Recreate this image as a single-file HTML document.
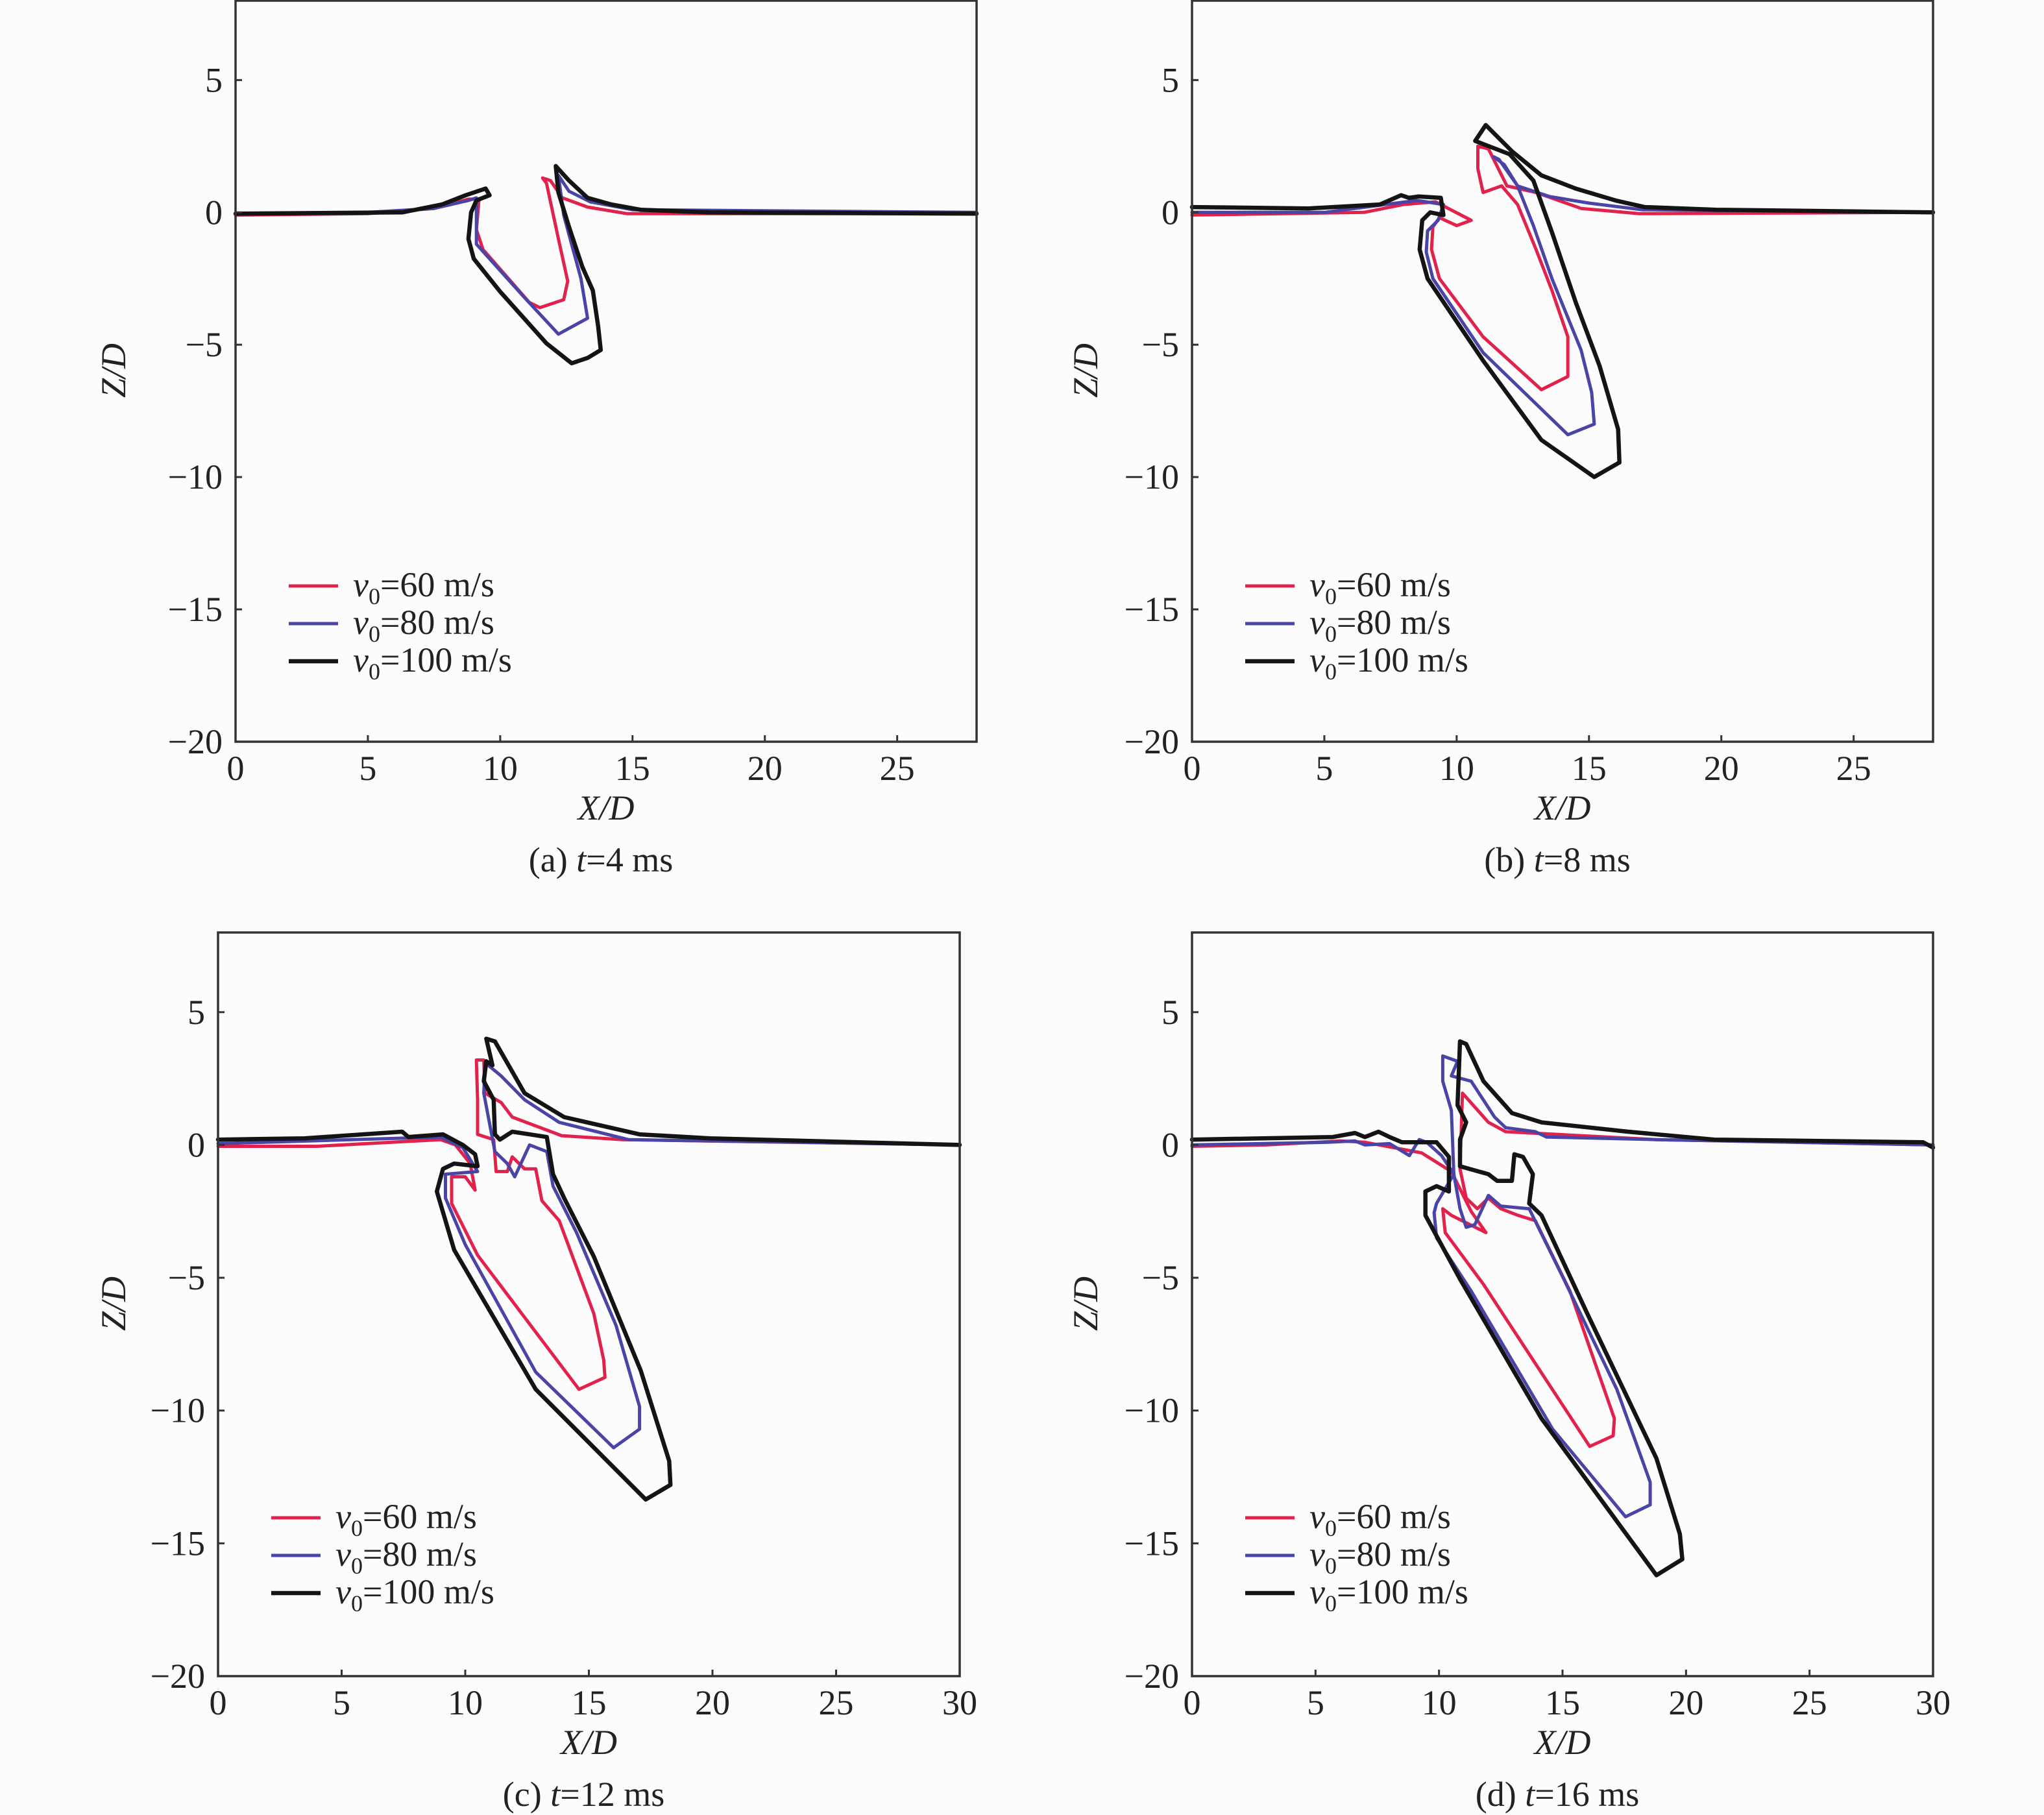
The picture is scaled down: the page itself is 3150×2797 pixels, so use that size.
<!DOCTYPE html>
<html><head><meta charset="utf-8"><style>
html,body{margin:0;padding:0;background:#fcfcfc;}
svg{display:block;font-family:"Liberation Serif",serif;}
</style></head><body>
<svg id="fig" width="3150" height="2797" viewBox="0 0 3150 2797" xmlns="http://www.w3.org/2000/svg"></svg>
<script>
// ---- data (X/D, Z/D) ----
const a60X=[0,5,7.5,8.8,9.2,9.1,9.35,11.1,11.5,12.4,12.55,12.2,11.75,11.6,11.9,12.35,13.3,14.8,28];
const a60Z=[-0.1,-0.05,0.15,0.5,0.5,-0.65,-1.4,-3.4,-3.6,-3.3,-2.6,-1.0,1.1,1.3,1.2,0.55,0.2,-0.05,-0.05];
const a80X=[0,5,7.5,8.8,9.1,9.1,9.1,10.9,12.2,13.3,13.05,12.4,12.2,12.6,13.4,15,28];
const a80Z=[-0.05,0,0.15,0.45,0.55,-0.2,-1.2,-3.2,-4.6,-4.0,-2.5,-0.1,1.4,0.8,0.4,0.1,0];
const a100X=[0,6.3,7.8,8.7,9.45,9.6,9.1,8.9,8.8,9.0,10.0,11.75,12.7,13.3,13.8,13.7,13.5,13.1,12.6,12.2,12.1,12.6,13.3,14.2,15.3,17.9,28];
const a100Z=[-0.05,0,0.3,0.65,0.9,0.65,0.45,0,-1.0,-1.75,-3.0,-4.95,-5.7,-5.5,-5.2,-4.3,-2.95,-2.05,-0.55,0.75,1.75,1.2,0.55,0.3,0.1,0,-0.05];

const b60X=[0,6.5,8,9.2,10.55,10.0,9.35,9.1,9.05,9.35,11.0,13.2,14.2,14.2,13.6,13.0,12.3,11.7,11.0,10.8,10.8,11.2,11.9,13.0,14.7,16.9,28];
const b60Z=[-0.1,0,0.3,0.4,-0.3,-0.5,-0.2,-0.55,-1.4,-2.5,-4.7,-6.7,-6.2,-4.7,-2.95,-1.4,0.3,1.0,0.75,1.65,2.5,2.4,1.0,0.75,0.15,-0.05,0];
const b80X=[0,5,8.5,9.5,9.3,8.9,8.85,9.1,11.0,14.2,15.2,15.1,14.7,13.6,12.9,12.3,11.6,11.4,11.8,12.3,13.5,15,17,28];
const b80Z=[0,0,0.45,0.3,-0.3,-0.7,-1.5,-2.5,-5.3,-8.4,-8.0,-6.8,-5.2,-2.5,-0.5,1.0,2.0,2.1,1.8,1.0,0.6,0.35,0.1,0];
const b100X=[0,4.4,7.1,7.9,8.2,8.55,9.4,9.5,9.0,8.7,8.6,8.9,11.0,13.2,15.2,16.15,16.1,15.4,14.5,13.6,12.9,12.0,10.7,11.1,12.1,13.2,14.5,16,17.1,19.8,28];
const b100Z=[0.2,0.15,0.3,0.65,0.55,0.6,0.55,-0.1,0,-0.3,-1.4,-2.5,-5.6,-8.6,-10.0,-9.45,-8.2,-5.8,-3.4,-0.75,1.2,2.2,2.7,3.3,2.3,1.4,0.9,0.45,0.2,0.1,0];

const c60X=[0,4,9,9.6,10.2,10.4,10.0,9.45,9.45,10.5,14.6,15.65,15.6,15.2,13.8,13.1,12.85,12.4,11.9,11.7,11.25,11.15,10.5,10.5,10.45,10.75,10.8,11.45,11.9,13.9,16.35,30];
const c60Z=[-0.05,-0.05,0.2,0,-0.7,-1.7,-1.2,-1.2,-2.2,-4.15,-9.2,-8.75,-8.1,-6.35,-2.85,-2.1,-0.9,-0.9,-0.45,-1.0,-1.0,0.2,0.4,1.7,3.2,3.2,1.95,1.6,1.05,0.35,0.2,0];
const c80X=[0,9,9.9,10.5,9.2,9.2,10.0,12.85,16.0,17.05,17.05,16.1,14.5,13.55,13.3,12.6,12.0,11.7,11.2,10.75,10.8,11.45,12.4,13.8,16.6,30];
const c80Z=[0.05,0.3,-0.1,-1.0,-1.1,-2.0,-3.75,-8.55,-11.4,-10.7,-9.85,-6.8,-3.3,-1.55,-0.25,0,-1.2,-0.7,-0.25,1.95,3.1,2.6,1.7,0.85,0.2,0];
const c100X=[0,3.5,7.45,7.7,9.1,9.9,10.4,10.5,9.55,9.1,8.85,9.55,12.85,17.3,18.3,18.25,17.1,15.2,14.0,13.55,13.3,12.6,11.9,11.4,11.2,11.15,10.75,10.85,11.1,10.85,11.2,12.4,14.0,17.05,19.9,30];
const c100Z=[0.2,0.25,0.5,0.3,0.4,0,-0.35,-0.8,-0.7,-0.9,-1.75,-3.95,-9.2,-13.35,-12.8,-11.9,-8.5,-4.2,-2.0,-1.1,0.3,0.4,0.5,0.2,0.4,1.7,2.4,3.15,3.0,4.0,3.9,1.95,1.05,0.4,0.25,0];

const d60X=[0,3,6,7,9.3,10.5,11.3,11.9,10.5,10.15,10.25,11.8,16.1,17.05,17.1,15.3,13.9,13.2,12.5,12.0,11.55,11.1,10.85,10.95,12.0,12.7,18.8,30];
const d60Z=[-0.05,0,0.15,0.1,-0.3,-1.0,-2.5,-3.3,-2.65,-2.4,-3.3,-5.25,-11.35,-10.95,-10.3,-5.5,-2.85,-2.65,-2.4,-2.0,-2.4,-2.0,-0.9,1.95,0.85,0.5,0.2,0];
const d80X=[0,5.5,6.6,7,8,8.8,9.2,9.5,10.1,10.6,9.9,9.8,9.9,11.3,14.6,17.55,18.55,18.55,17.2,15.05,13.65,12.5,12.0,11.45,11.1,10.85,10.6,10.5,10.15,10.15,10.75,10.5,11.3,12.25,12.7,13.9,14.35,18.8,30];
const d80Z=[0,0.1,0.15,0,0.05,-0.4,0.2,0.1,-0.4,-1.1,-2.2,-2.55,-3.5,-5.5,-10.7,-14.0,-13.55,-12.7,-9.2,-5.05,-2.4,-2.3,-1.9,-3.0,-3.1,-2.4,-1.1,1.3,2.4,3.35,3.15,2.6,2.4,1.05,0.65,0.5,0.3,0.2,0];
const d100X=[0,5.7,6.6,7.0,7.55,8.0,8.5,9.9,10.4,10.4,9.9,9.45,9.45,10.85,14.15,18.8,19.85,19.75,18.8,16.0,14.15,13.65,13.8,13.4,13.05,12.95,12.35,12.0,10.85,10.85,11.1,10.75,10.85,11.1,11.8,12.95,14.15,17.65,21.15,29.6,30];
const d100Z=[0.2,0.3,0.45,0.3,0.5,0.3,0.1,0.1,-0.45,-1.75,-1.55,-1.75,-2.65,-5.05,-10.3,-16.2,-15.6,-14.65,-11.8,-6.35,-2.65,-2.2,-1.1,-0.45,-0.35,-1.35,-1.35,-1.1,-0.8,0.2,0.85,1.5,3.9,3.8,2.4,1.2,0.85,0.5,0.2,0.1,-0.1];

const yTicks=[5,0,-5,-10,-15,-20];
const xTicksA=[0,5,10,15,20,25];
const xTicksC=[0,5,10,15,20,25,30];
const legendLabels=["60 m/s","80 m/s","100 m/s"];

// ---- layout ----
const NS="http://www.w3.org/2000/svg";
const svg=document.getElementById('fig');
const COLORS=["#e0224c","#4a44a6","#141414"];
const WIDTHS=[5,5,6.5];
const panels=[
 {id:'a',L:363,R:1505,T:1,B:1143,xmax:28,xt:xTicksA,cap:['(a) ','t','=4 ms'],zx:175,X:[a60X,a80X,a100X],Z:[a60Z,a80Z,a100Z]},
 {id:'b',L:1837,R:2979,T:1,B:1143,xmax:28,xt:xTicksA,cap:['(b) ','t','=8 ms'],zx:1673,X:[b60X,b80X,b100X],Z:[b60Z,b80Z,b100Z]},
 {id:'c',L:336,R:1479,T:1437,B:2583,xmax:30,xt:xTicksC,cap:['(c) ','t','=12 ms'],zx:175,X:[c60X,c80X,c100X],Z:[c60Z,c80Z,c100Z]},
 {id:'d',L:1837,R:2979,T:1437,B:2583,xmax:30,xt:xTicksC,cap:['(d) ','t','=16 ms'],zx:1673,X:[d60X,d80X,d100X],Z:[d60Z,d80Z,d100Z]}
];
function mk(tag,attrs,parent){const e=document.createElementNS(NS,tag);for(const k in attrs)e.setAttribute(k,attrs[k]);(parent||svg).appendChild(e);return e;}

panels.forEach(p=>{
 const g=mk('g',{});
 
 
 const sx=v=>p.L+(v/p.xmax)*(p.R-p.L);
 const sy=v=>p.B-((v+20)/28)*(p.B-p.T);
 for(let s=0;s<3;s++){
  const pts=p.X[s].map((x,i)=>sx(x).toFixed(1)+','+sy(p.Z[s][i]).toFixed(1)).join(' ');
  const pl=mk('polyline',{points:pts,fill:'none',stroke:COLORS[s],'stroke-width':WIDTHS[s],'stroke-linejoin':'round','stroke-linecap':'round'},g);
  
  
 }
 const fr=mk('rect',{x:p.L,y:p.T,width:p.R-p.L,height:p.B-p.T,fill:'none',stroke:'#333','stroke-width':3.5},g);
 
 
 yTicks.forEach(t=>{
  const y=sy(t);
  mk('line',{x1:p.L,x2:p.L+10,y1:y,y2:y,stroke:'#333','stroke-width':3},g);
  const tx=mk('text',{x:p.L-20,y:y+18,'text-anchor':'end','font-size':54,fill:'#222'},g);
  tx.textContent=(t<0?'\u2212':'')+Math.abs(t);
  
  
 });
 p.xt.forEach(t=>{
  const x=sx(t);
  mk('line',{x1:x,x2:x,y1:p.B,y2:p.B-10,stroke:'#333','stroke-width':3},g);
  const tx=mk('text',{x:x,y:p.B+59,'text-anchor':'middle','font-size':54,fill:'#222'},g);
  tx.textContent=t;
  
  
 });
 const xl=mk('text',{x:(p.L+p.R)/2,y:p.B+120,'text-anchor':'middle','font-size':54,'font-style':'italic',fill:'#222'},g);
 xl.textContent='X/D';
 
 
 const ym=(p.T+p.B)/2-1;
 const zl=mk('text',{x:p.zx,y:ym,'text-anchor':'middle','font-size':54,'font-style':'italic',fill:'#222',transform:'rotate(-90 '+p.zx+' '+ym+') translate(0 18)'},g);
 zl.textContent='Z/D';
 
 
 const cp=mk('text',{x:(p.L+p.R)/2-8,y:p.B+200,'text-anchor':'middle','font-size':54,fill:'#222'},g);
 
 
 const c1=mk('tspan',{},cp);c1.textContent=p.cap[0];
 const c2=mk('tspan',{'font-style':'italic'},cp);c2.textContent=p.cap[1];
 const c3=mk('tspan',{},cp);c3.textContent=p.cap[2];
 const lg=mk('g',{},g);
 
 
 for(let s=0;s<3;s++){
  const y=p.T+902+s*58;
  const ln=mk('line',{x1:p.L+82,x2:p.L+158,y1:y,y2:y,stroke:COLORS[s],'stroke-width':WIDTHS[s]},lg);
  
  
  const t=mk('text',{x:p.L+181,y:y+16,'font-size':54,fill:'#222'},lg);
  
  
  const v=mk('tspan',{'font-style':'italic'},t);v.textContent='v';
  const sub=mk('tspan',{'font-size':36,dy:12},t);sub.textContent='0';
  const rest=mk('tspan',{dy:-12},t);rest.textContent='='+legendLabels[s];
 }
});
</script>
</body></html>
